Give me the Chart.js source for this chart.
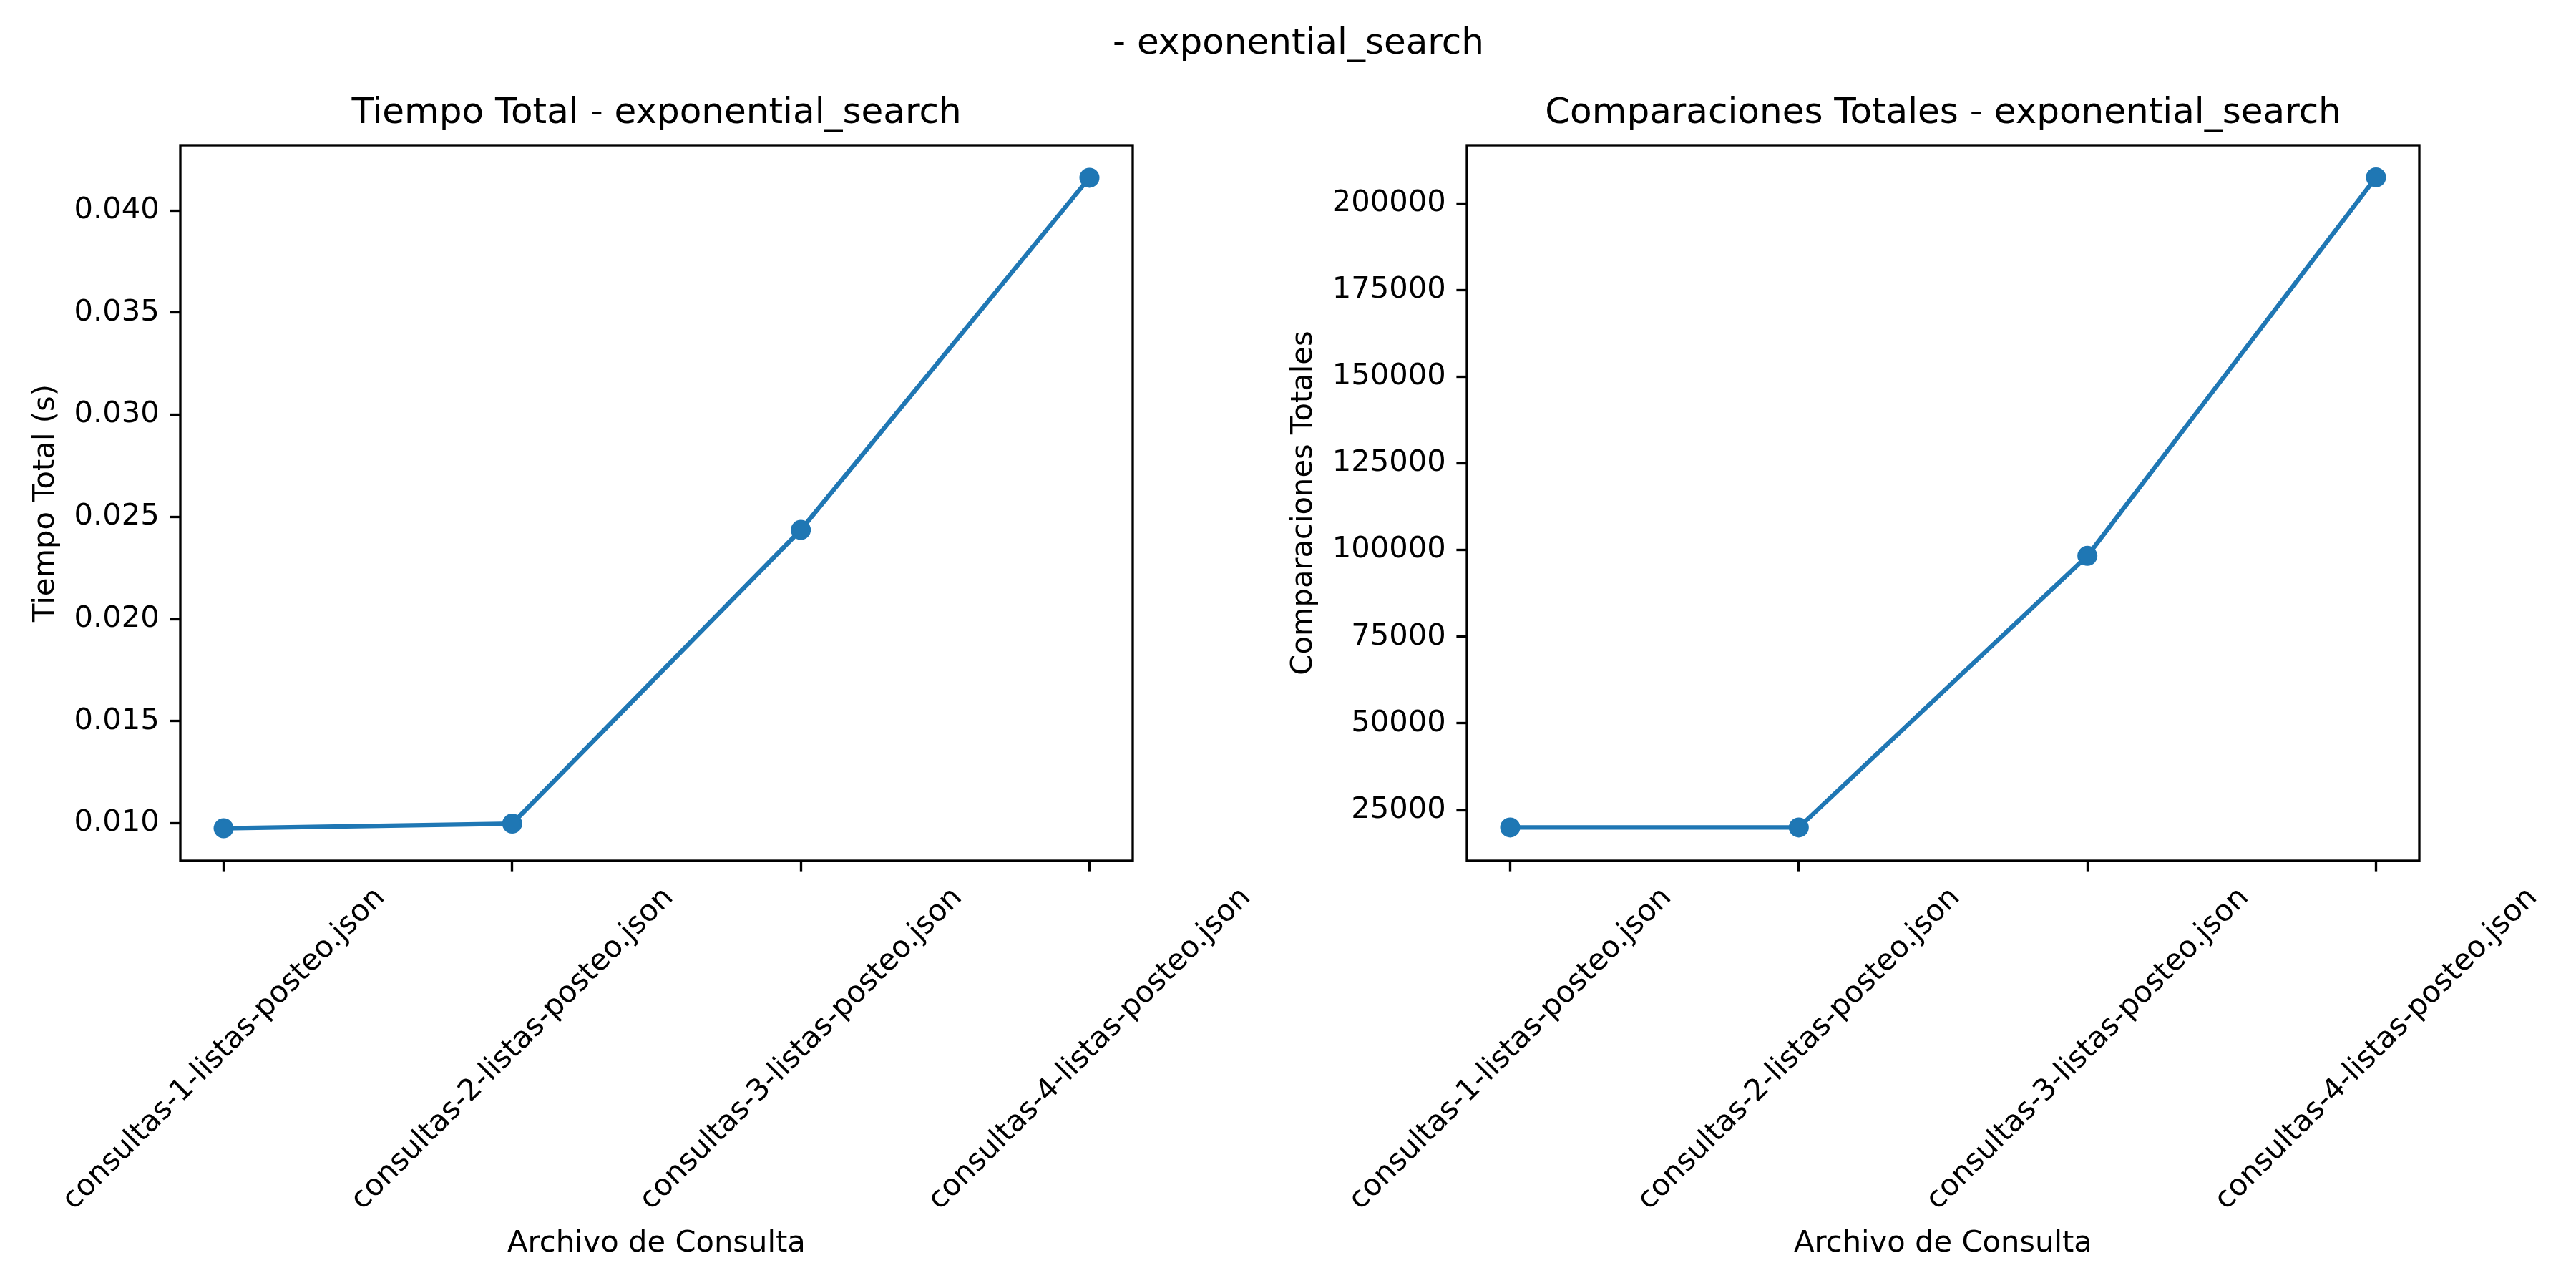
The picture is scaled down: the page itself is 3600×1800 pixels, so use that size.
<!DOCTYPE html>
<html><head><meta charset="utf-8">
<script src="https://cdn.jsdelivr.net/npm/chart.js@4.4.1/dist/chart.umd.min.js"></script>
<style>
html,body{margin:0;padding:0;background:#fff;overflow:hidden;}
#wrap{position:relative;width:3600px;height:1800px;background:#fff;overflow:hidden;}
#sup{position:absolute;left:1555px;top:33px;font-family:"DejaVu Sans";font-size:50px;line-height:50px;white-space:pre;color:#000;}
canvas{position:absolute;top:0;}
</style></head><body>
<div id="wrap">
<div id="sup">- exponential_search</div>
<canvas id="c1" width="1835" height="1800" style="left:0px"></canvas>
<canvas id="c2" width="1837" height="1800" style="left:1797px"></canvas>
</div>
<script>
const categories = ["consultas-1-listas-posteo.json","consultas-2-listas-posteo.json","consultas-3-listas-posteo.json","consultas-4-listas-posteo.json"];
const tiempoTotal = [0.00975, 0.00998, 0.02436, 0.0416];
const comparacionesTotales = [19950, 19950, 98300, 207450];
const tiempoTicks = [0.010, 0.015, 0.020, 0.025, 0.030, 0.035, 0.040];
const comparacionesTicks = [25000, 50000, 75000, 100000, 125000, 150000, 175000, 200000];
const xTickPositions = [0, 1, 2, 3];

Chart.defaults.font.family = "DejaVu Sans";
Chart.defaults.color = "#000";

const C0 = "#1f77b4";
const frame = {
  id: 'frame',
  afterDatasetsDraw(chart) {
    const {ctx, chartArea: a} = chart;
    ctx.save();
    ctx.strokeStyle = '#000';
    ctx.lineWidth = 3.33;
    ctx.strokeRect(a.left, a.top, a.right - a.left, a.bottom - a.top);
    ctx.restore();
  }
};

function makeChart(id, values, yMin, yMax, yTicks, fmt, title, ylabel, yWidth, rightWidth, yTitlePad) {
  const pts = values.map((v, i) => ({x: i, y: v}));
  return new Chart(document.getElementById(id), {
    type: 'line',
    data: { datasets: [{
      data: pts, yAxisID: 'y',
      borderColor: C0, backgroundColor: C0,
      pointBackgroundColor: C0, pointBorderColor: C0,
      borderWidth: 6.25, pointRadius: 12.5, pointBorderWidth: 3,
      tension: 0, fill: false
    }]},
    options: {
      responsive: false, animation: false, devicePixelRatio: 1,
      layout: { padding: 0 },
      plugins: {
        legend: { display: false }, tooltip: { enabled: false },
        title: { display: true, text: title, color: '#000',
          font: { size: 50, weight: 'normal', family: 'DejaVu Sans' },
          padding: { top: 129, bottom: 14 } }
      },
      scales: {
        x: {
          type: 'linear', min: -0.15, max: 3.15,
          afterBuildTicks: s => { s.ticks = xTickPositions.map(v => ({value: v})); },
          afterFit: s => { s.height = 597; s.paddingLeft = 0; s.paddingRight = 0; },
          ticks: { minRotation: 45, maxRotation: 45, autoSkip: false, padding: 13, labelOffset: 219,
            font: { size: 41.67 }, color: '#000',
            callback: v => categories[v] },
          grid: { display: true, drawOnChartArea: false, drawTicks: true, tickLength: 14.6, tickWidth: 3.33, tickColor: '#000', color: '#000' },
          border: { display: false },
          title: { display: true, text: 'Archivo de Consulta', color: '#000', font: { size: 41.67 }, padding: { top: 0, bottom: 37 } }
        },
        y: {
          type: 'linear', position: 'left', min: yMin, max: yMax,
          afterBuildTicks: s => { s.ticks = yTicks.map(v => ({value: v})); },
          afterFit: s => { s.width = yWidth; s.paddingTop = 0; s.paddingBottom = 0; },
          ticks: { padding: 14.6, font: { size: 41.67 }, color: '#000', callback: fmt },
          grid: { display: true, drawOnChartArea: false, drawTicks: true, tickLength: 14.6, tickWidth: 3.33, tickColor: '#000', color: '#000' },
          border: { display: false },
          title: { display: true, text: ylabel, color: '#000', font: { size: 41.67 }, padding: { top: yTitlePad, bottom: 0 } }
        },
        yr: {
          type: 'linear', position: 'right', min: 0, max: 1, display: true,
          afterFit: s => { s.width = rightWidth; s.paddingTop = 0; s.paddingBottom = 0; },
          ticks: { display: false },
          grid: { display: false, drawOnChartArea: false, drawTicks: false },
          border: { display: false },
          title: { display: false }
        }
      }
    },
    plugins: [frame]
  });
}

makeChart('c1', tiempoTotal, 0.00816, 0.04319, tiempoTicks, v => v.toFixed(3),
  'Tiempo Total - exponential_search', 'Tiempo Total (s)', 252, 252, 39);
makeChart('c2', comparacionesTotales, 10348, 216716, comparacionesTicks, v => String(Math.round(v)),
  'Comparaciones Totales - exponential_search', 'Comparaciones Totales', 253, 253, 0);
</script>
</body></html>
